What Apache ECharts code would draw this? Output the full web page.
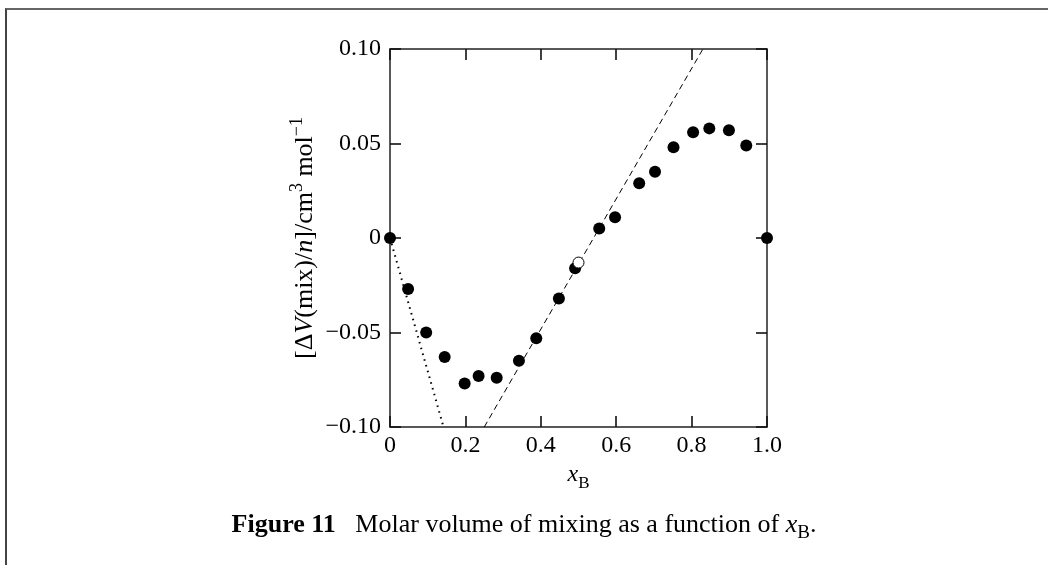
<!DOCTYPE html>
<html>
<head>
<meta charset="utf-8">
<script src="https://cdn.jsdelivr.net/npm/echarts@6/dist/echarts.min.js"></script>
<style>
  html, body { margin: 0; padding: 0; background: #fff; }
  #wrap { position: relative; width: 1048px; height: 565px; }
  #chart { position: absolute; left: 0; top: 0; width: 1048px; height: 565px; }
  #frame { position: absolute; left: 5px; top: 8px; right: 0; bottom: 0; border-left: 2px solid #444; border-top: 2px solid #666; pointer-events: none; }
</style>
</head>
<body>
<div id="wrap">
  <div id="chart"></div>
  <div id="frame"></div>
</div>
<script>
// mole fraction of B
const xB = [0, 0.048, 0.096, 0.145, 0.198, 0.235, 0.283, 0.342, 0.388, 0.448, 0.491,
  0.555, 0.597, 0.661, 0.703, 0.752, 0.804, 0.847, 0.899, 0.945, 1.0]
// molar volume of mixing / cm3 mol-1
const dV = [0, -0.027, -0.050, -0.063, -0.077, -0.073, -0.074, -0.065, -0.053, -0.032, -0.016,
  0.005, 0.011, 0.029, 0.035, 0.048, 0.056, 0.058, 0.057, 0.049, 0]
// open point at x = 0.5
const openX = [0.5]
const openV = [-0.013]
// tangent at x = 0.5 (dashed) and at x = 0 (dotted)
const tangentX = [0.25, 0.83]
const tangentV = [-0.10, 0.10]
const limitX = [0, 0.142]
const limitV = [0, -0.10]

const pairs = (xs, ys) => xs.map((x, i) => [x, ys[i]])
const font = 'Liberation Serif'

const yLabel = v => {
  if (Math.abs(v) < 1e-9) return '0'
  return (v < 0 ? '\u2212' : '') + Math.abs(v).toFixed(2)
}
const xLabel = v => Math.abs(v) < 1e-9 ? '0' : v.toFixed(1)

const axisLine = () => ({show: true, onZero: false, lineStyle: {color: '#222', width: 1.5}})
const tick = () => ({show: true, inside: true, length: 11, lineStyle: {color: '#111', width: 1.6}})

// x with subscript B
const subRich = size => ({
  i: {fontFamily: font, fontSize: size, fontStyle: 'italic', color: '#000'},
  b: {fontFamily: font, fontSize: size, fontWeight: 'bold', color: '#000'},
  sub: {fontFamily: font, fontSize: Math.round(size * 0.72), color: '#000', verticalAlign: 'bottom', lineHeight: size + 10}
})

let myEchart = echarts.init(document.getElementById('chart'))
myEchart.setOption({
  animation: false,
  textStyle: {fontFamily: font, color: '#000'},
  title: {
    text: '{b|Figure 11}   Molar volume of mixing as a function of {i|x}{sub|B}.',
    left: 'center',
    top: 502,
    textStyle: {
      fontFamily: font, fontSize: 26, fontWeight: 'normal', color: '#000',
      rich: subRich(26)
    }
  },
  grid: {left: 390, right: 281, top: 49, bottom: 138},
  xAxis: [
    {
      type: 'value', min: 0, max: 1, interval: 0.2,
      position: 'bottom',
      axisLine: axisLine(), axisTick: tick(), splitLine: {show: false},
      axisLabel: {formatter: xLabel, fontFamily: font, fontSize: 24, color: '#000', margin: 7},
      name: '{i|x}{sub|B}',
      nameLocation: 'middle',
      nameGap: 31,
      nameTextStyle: {
        fontFamily: font, fontSize: 24, color: '#000',
        rich: subRich(24)
      }
    },
    {
      type: 'value', min: 0, max: 1, interval: 0.2,
      position: 'top',
      axisLine: axisLine(), axisTick: tick(), splitLine: {show: false},
      axisLabel: {show: false}
    }
  ],
  yAxis: [
    {
      type: 'value', min: -0.1, max: 0.1, interval: 0.05,
      position: 'left',
      axisLine: axisLine(), axisTick: tick(), splitLine: {show: false},
      axisLabel: {formatter: yLabel, fontFamily: font, fontSize: 24, color: '#000', margin: 9},
      name: '[\u0394{i|V}(mix)/{i|n}]/cm{sup|3} mol{sup|\u22121}',
      nameLocation: 'middle',
      nameRotate: 90,
      nameGap: 68,
      nameTextStyle: {
        fontFamily: font, fontSize: 26, color: '#000',
        rich: {
          i: {fontFamily: font, fontSize: 26, fontStyle: 'italic', color: '#000'},
          sup: {fontFamily: font, fontSize: 18, color: '#000', verticalAlign: 'top', lineHeight: 34}
        }
      }
    },
    {
      type: 'value', min: -0.1, max: 0.1, interval: 0.05,
      position: 'right',
      axisLine: axisLine(), axisTick: tick(), splitLine: {show: false},
      axisLabel: {show: false}
    }
  ],
  series: [
    {
      type: 'line',
      data: pairs(limitX, limitV),
      showSymbol: false,
      lineStyle: {color: '#000', width: 2, type: [1.5, 4.5]},
      z: 1
    },
    {
      type: 'line',
      data: pairs(tangentX, tangentV),
      showSymbol: false,
      lineStyle: {color: '#000', width: 1, type: [6, 4]},
      z: 1
    },
    {
      type: 'scatter',
      data: pairs(xB, dV),
      symbol: 'circle',
      symbolSize: 12,
      itemStyle: {color: '#000', opacity: 1},
      z: 3
    },
    {
      type: 'scatter',
      data: pairs(openX, openV),
      symbol: 'circle',
      symbolSize: 11,
      itemStyle: {color: '#fff', borderColor: '#000', borderWidth: 1, opacity: 1},
      z: 4
    }
  ]
})
</script>
</body>
</html>
